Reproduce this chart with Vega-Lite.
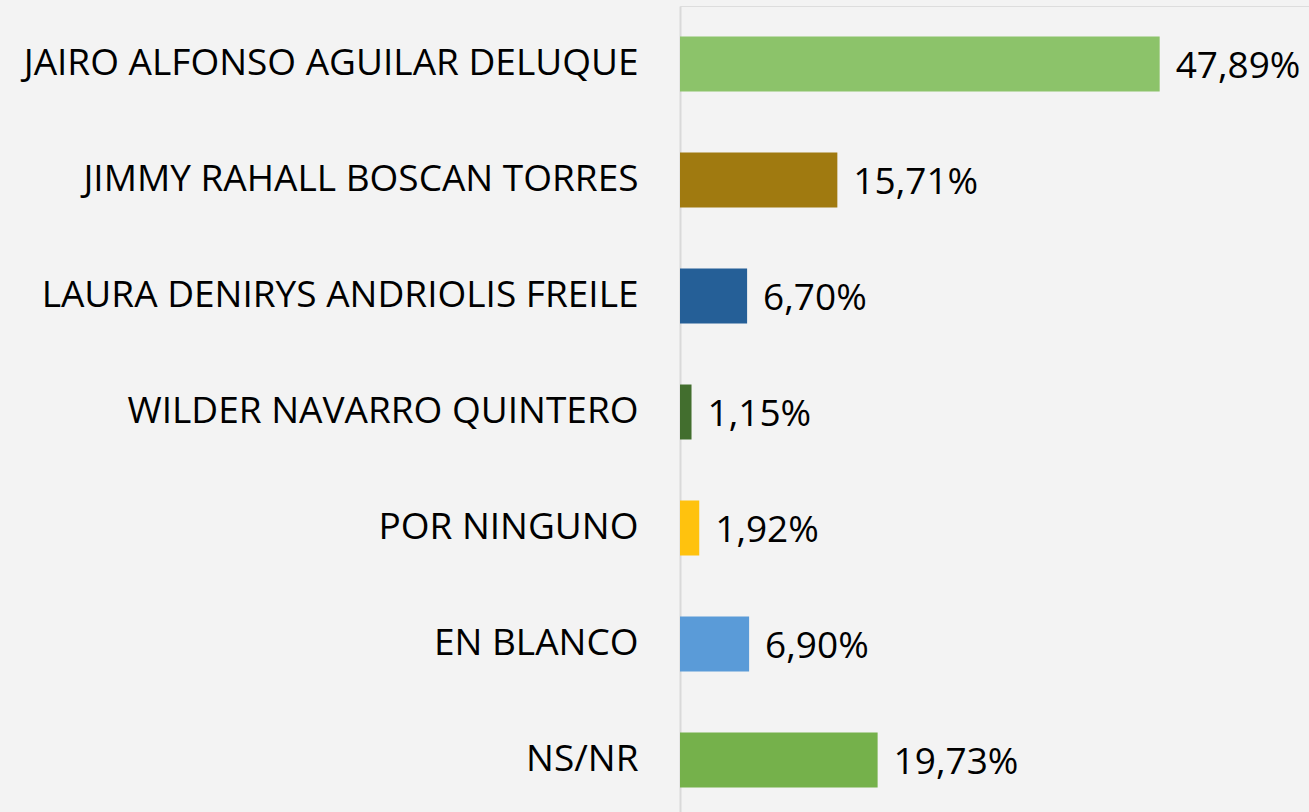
{
  "$schema": "https://vega.github.io/schema/vega-lite/v6.json",
  "autosize": {"type": "none"},
  "width": 629,
  "height": 812,
  "padding": {"left": 680, "top": 6, "right": 0, "bottom": 0},
  "background": "#f3f3f3",
  "data": {"values": [
    {"name": "JAIRO ALFONSO AGUILAR DELUQUE", "value": 47.89, "label": "47,89%", "color": "#8cc36a"},
    {"name": "JIMMY RAHALL BOSCAN TORRES", "value": 15.71, "label": "15,71%", "color": "#a07a10"},
    {"name": "LAURA DENIRYS ANDRIOLIS FREILE", "value": 6.70, "label": "6,70%", "color": "#255f97"},
    {"name": "WILDER NAVARRO QUINTERO", "value": 1.15, "label": "1,15%", "color": "#426e2e"},
    {"name": "POR NINGUNO", "value": 1.92, "label": "1,92%", "color": "#ffc20e"},
    {"name": "EN BLANCO", "value": 6.90, "label": "6,90%", "color": "#5a9bd8"},
    {"name": "NS/NR", "value": 19.73, "label": "19,73%", "color": "#75b14b"}
  ]},
  "encoding": {
    "y": {"field": "name", "type": "nominal", "sort": null,
      "scale": {"paddingInner": 0.526, "paddingOuter": 0.263},
      "axis": {"title": null, "ticks": false, "labelFont": "Open Sans", "labelFontSize": 37, "labelColor": "#000000", "labelLimit": 0, "labelPadding": 42, "domainColor": "#d9d9d9", "domainWidth": 2}},
    "x": {"field": "value", "type": "quantitative", "scale": {"domain": [0, 62.8]}, "axis": null}
  },
  "layer": [
    {"mark": {"type": "bar"}, "encoding": {"color": {"field": "color", "type": "nominal", "scale": null}}},
    {"mark": {"type": "text", "align": "left", "baseline": "middle", "dx": 16, "dy": 3, "font": "Open Sans", "fontSize": 37, "color": "#000000"}, "encoding": {"text": {"field": "label"}}}
  ]
}
